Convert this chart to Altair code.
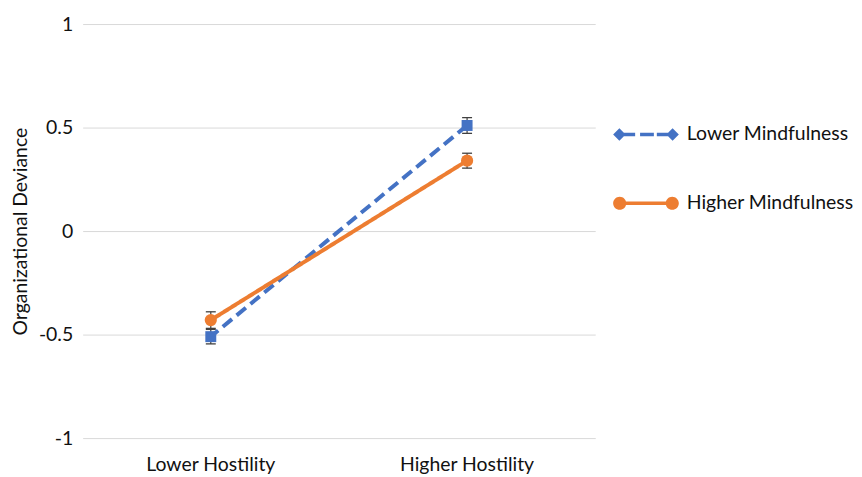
import altair as alt
import pandas as pd

categories = ["Lower Hostility", "Higher Hostility"]
series_names = ["Lower Mindfulness", "Higher Mindfulness"]
lower_mindfulness = [-0.51, 0.51]
higher_mindfulness = [-0.43, 0.34]
lower_mindfulness_err = [0.035, 0.038]
higher_mindfulness_err = [0.04, 0.036]
y_ticks = [-1, -0.5, 0, 0.5, 1]

rows = []
for s, vals, errs in zip(series_names, [lower_mindfulness, higher_mindfulness],
                         [lower_mindfulness_err, higher_mindfulness_err]):
    for c, v, e in zip(categories, vals, errs):
        rows.append({"hostility": c, "series": s, "value": v, "lo": v - e, "hi": v + e})
df = pd.DataFrame(rows)

colors = ["#4472C4", "#ED7D31"]
FONT = "Lato"
TXT = "#111111"
FS = 19.5


def rect(a, b, t=0.055):
    return f"M {a} {-t} L {b} {-t} L {b} {t} L {a} {t} Z "


def diamond(cx, r=0.19):
    return f"M {cx - r} 0 L {cx} {-r} L {cx + r} 0 L {cx} {r} Z "


def circle(cx, r=0.2):
    return f"M {cx - r} 0 A {r} {r} 0 1 1 {cx + r} 0 A {r} {r} 0 1 1 {cx - r} 0 Z "


blue_path = (diamond(-0.81) + rect(-0.7, -0.33) + rect(-0.18, 0.24) + rect(0.33, 0.7)
             + diamond(0.81)).strip()
orange_path = (circle(-0.8) + rect(-0.8, 0.8) + circle(0.8)).strip()

x_enc = alt.X("hostility:N", sort=categories,
              scale=alt.Scale(type="band", paddingInner=0, paddingOuter=0),
              axis=alt.Axis(title=None, labelAngle=0, labelFontSize=FS, labelFont=FONT,
                            labelColor=TXT, labelPadding=18, domain=False, ticks=False,
                            grid=False))


def y_enc(field):
    return alt.Y(f"{field}:Q", scale=alt.Scale(domain=[-1, 1], nice=False, zero=False),
                 axis=alt.Axis(values=y_ticks, labelExpr="datum.value + ''",
                               title="Organizational Deviance", titleFont=FONT,
                               titleFontSize=FS, titleFontWeight="normal", titleColor=TXT,
                               titlePadding=8, labelFont=FONT, labelFontSize=FS,
                               labelColor=TXT, labelPadding=10, domain=False, ticks=False,
                               grid=True, gridColor="#D9D9D9", gridWidth=1))


base = alt.Chart(df)

err_rule = base.mark_rule(color="#404040", strokeWidth=1.2).encode(
    x=x_enc, y=y_enc("lo"), y2="hi:Q")
cap_lo = base.mark_tick(color="#404040", size=10, thickness=1.3, opacity=1).encode(
    x=x_enc, y=y_enc("lo"))
cap_hi = base.mark_tick(color="#404040", size=10, thickness=1.3, opacity=1).encode(
    x=x_enc, y=y_enc("hi"))

lines = base.mark_line(strokeWidth=4, strokeCap="butt").encode(
    x=x_enc, y=y_enc("value"),
    color=alt.Color("series:N", scale=alt.Scale(domain=series_names, range=colors), legend=None),
    strokeDash=alt.StrokeDash("series:N", scale=alt.Scale(domain=series_names,
                                                          range=[[12, 6], [1, 0]]), legend=None),
    order=alt.Order("hostility:N"),
)

points = base.mark_point(filled=True, opacity=1, strokeWidth=0).encode(
    x=x_enc, y=y_enc("value"),
    color=alt.Color("series:N", scale=alt.Scale(domain=series_names, range=colors), legend=None),
    shape=alt.Shape("series:N", scale=alt.Scale(domain=series_names, range=["square", "circle"]),
                    legend=None),
    size=alt.Size("series:N", scale=alt.Scale(domain=series_names, range=[121, 150]), legend=None),
)

leg = alt.Legend(title=None, orient="none", legendX=533, legendY=78, symbolSize=4356,
                 labelFont=FONT, labelFontSize=FS, labelColor=TXT, labelOffset=8,
                 labelLimit=400, rowPadding=26, padding=0, symbolStrokeWidth=0,
                 symbolOpacity=1)

legend_layer = base.mark_point(filled=True, opacity=1).encode(
    color=alt.Color("series:N", scale=alt.Scale(domain=series_names, range=colors), legend=leg),
    shape=alt.Shape("series:N", scale=alt.Scale(domain=series_names,
                                                range=[blue_path, orange_path]), legend=leg),
).transform_filter("false")

chart = alt.layer(err_rule, cap_lo, cap_hi, lines, points, legend_layer).resolve_scale(
    color="independent", shape="independent", size="independent", strokeDash="independent"
).properties(
    width=515, height=416,
    padding={"left": 2, "top": 5, "right": 0, "bottom": 5},
    background="white",
).configure_view(strokeWidth=0)

chart.save("out.html", embed_options={"renderer": "svg", "actions": False})
